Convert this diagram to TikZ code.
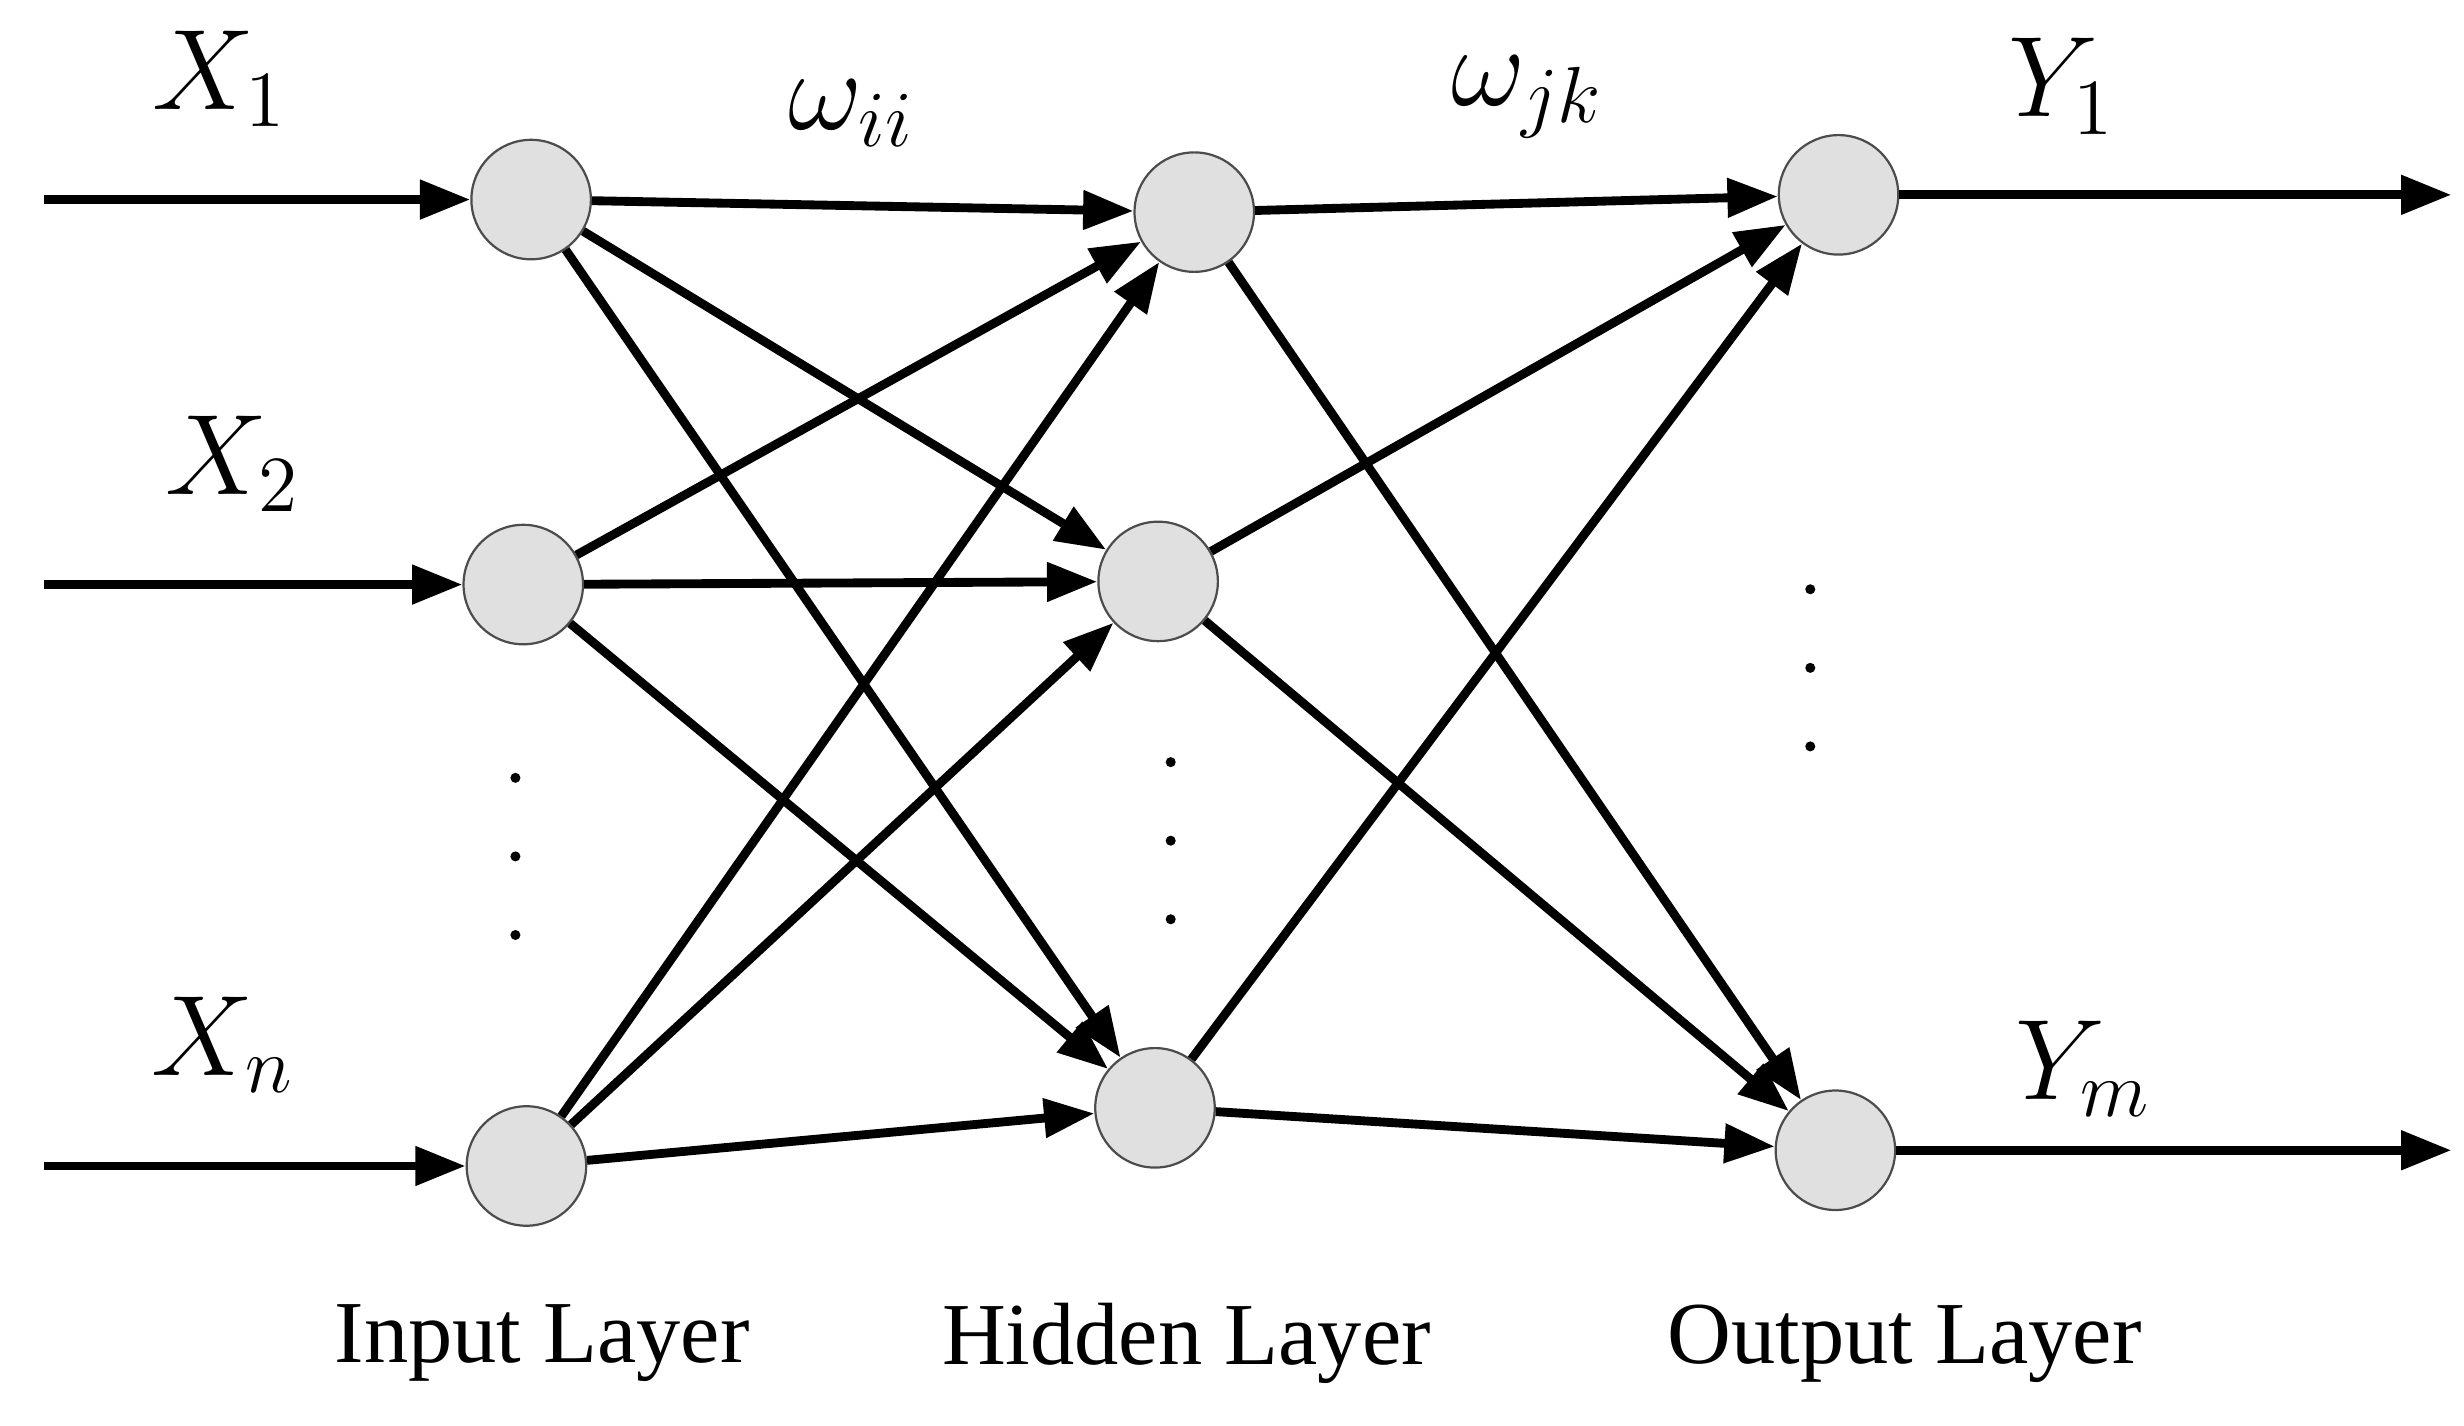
\documentclass[tikz,border=0pt]{standalone}
\usepackage{fontspec}
\setmainfont{Liberation Serif}
\usetikzlibrary{arrows.meta}
\tikzset{
  neuron/.style={circle,draw=black!70,fill=black!12,minimum size=0.76cm,inner sep=0pt},
  link/.style={line width=1.6pt,-{Triangle[length=0.32cm,width=0.24cm]}},
  lbl/.style={font=\fontsize{21}{24}\selectfont},
  layername/.style={font=\fontsize{16}{19}\selectfont}
}
\begin{document}
\begin{tikzpicture}[x=0.01cm,y=-0.01cm]
\useasboundingbox (0,0) rectangle (1568,907);

%%%% neurons
\node[neuron] (i1) at (338,127) {};
\node[neuron] (i2) at (333,372) {};
\node[neuron] (i3) at (335,742) {};
\node[neuron] (h1) at (760,135) {};
\node[neuron] (h2) at (737,370) {};
\node[neuron] (h3) at (735,705) {};
\node[neuron] (o1) at (1170,124) {};
\node[neuron] (o2) at (1168,732) {};

%%%% inputs and outputs
\coordinate (x1) at (28,127);
\coordinate (x2) at (28,372);
\coordinate (x3) at (28,742);
\coordinate (y1) at (1560,124);
\coordinate (y2) at (1560,732);
\draw[link] (x1) -- (i1);
\draw[link] (x2) -- (i2);
\draw[link] (x3) -- (i3);
\draw[link] (o1) -- (y1);
\draw[link] (o2) -- (y2);

%%%% connections
\foreach \a in {i1,i2,i3}
  \foreach \b in {h1,h2,h3}
    \draw[link] (\a) -- (\b);
\foreach \a in {h1,h2,h3}
  \foreach \b in {o1,o2}
    \draw[link] (\a) -- (\b);

%%%% dots
\foreach \y in {495,545,595} \fill (328,\y) circle (3.2);
\foreach \y in {485,535,585} \fill (745,\y) circle (3.2);
\foreach \y in {375,425,475} \fill (1152,\y) circle (3.2);

%%%% labels
\node[lbl] (lx1) at (140,50) {$X_1$};
\node[lbl] (lx2) at (148,295) {$X_2$};
\node[lbl] (lx3) at (142,665) {$X_n$};
\node[lbl] (lw1) at (542,72) {$\omega_{ii}$};
\node[lbl] (lw2) at (972,62) {$\omega_{jk}$};
\node[lbl] (ly1) at (1312,55) {$Y_1$};
\node[lbl] (ly2) at (1326,680) {$Y_m$};

%%%% layer names
\node[layername] (ci) at (345,855) {Input Layer};
\node[layername] (ch) at (755,855) {Hidden Layer};
\node[layername] (co) at (1212,855) {Output Layer};
\end{tikzpicture}
\end{document}
